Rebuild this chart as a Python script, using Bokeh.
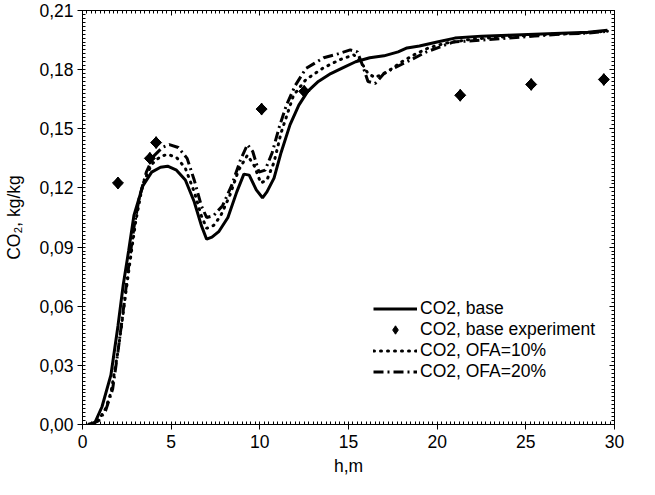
import numpy as np
from bokeh.plotting import figure
from bokeh.models import (LinearAxis, FixedTicker, CustomJSTickFormatter, Legend,
                          LegendItem, Range1d)
from bokeh.embed import file_html
from bokeh.resources import INLINE

# ---- data ----
base_x = [0.3, 0.7, 1.1, 1.6, 2.0, 2.3, 2.6, 2.9, 3.4, 3.9, 4.4, 4.8, 5.3, 5.8, 6.3, 6.7,
          7.0, 7.3, 7.7, 8.2, 8.7, 9.1, 9.4, 9.8, 10.15, 10.4, 10.8, 11.2, 11.7, 12.2,
          12.7, 13.3, 14.0, 14.7, 15.4, 16.2, 17.0, 17.8, 18.3, 19.0, 20.0, 21.0, 22.5,
          24.0, 25.5, 27.0, 28.5, 29.6]
base_y = [0.000, 0.001, 0.009, 0.025, 0.050, 0.071, 0.088, 0.106, 0.121, 0.128, 0.1305,
          0.131, 0.129, 0.124, 0.113, 0.101, 0.094, 0.095, 0.098, 0.105, 0.118, 0.127,
          0.1265, 0.119, 0.115, 0.118, 0.125, 0.138, 0.152, 0.162, 0.169, 0.174, 0.178,
          0.181, 0.184, 0.186, 0.187, 0.189, 0.191, 0.192, 0.194, 0.196, 0.197, 0.1975,
          0.198, 0.1985, 0.199, 0.200]

ofa10_x = [0.5, 0.9, 1.3, 1.6, 2.0, 2.2, 2.4, 2.7, 3.0, 3.4, 3.9, 4.4, 4.8, 5.3, 5.8,
           6.3, 6.7, 7.0, 7.4, 7.8, 8.3, 8.8, 9.3, 9.7, 10.05, 10.4, 10.8, 11.2, 11.9,
           12.6, 13.6, 14.5, 15.3, 15.7, 16.1, 16.5, 17.2, 18.0, 18.8, 19.5, 20.5, 22.0,
           23.5, 25.0, 26.5, 28.0, 29.6]
ofa10_y = [0.000, 0.002, 0.008, 0.016, 0.037, 0.050, 0.064, 0.084, 0.103, 0.122, 0.132,
           0.136, 0.137, 0.1355, 0.130, 0.118, 0.106, 0.0995, 0.101, 0.106, 0.116, 0.129,
           0.1366, 0.131, 0.1225, 0.124, 0.133, 0.148, 0.167, 0.175, 0.181, 0.185, 0.1875,
           0.184, 0.178, 0.176, 0.179, 0.184, 0.188, 0.191, 0.1935, 0.1955, 0.1965,
           0.1972, 0.198, 0.1985, 0.1995]

ofa20_x = [0.5, 0.9, 1.3, 1.7, 2.0, 2.3, 2.6, 2.9, 3.2, 3.6, 4.0, 4.5, 4.9, 5.4, 5.9,
           6.3, 6.7, 7.0, 7.4, 7.9, 8.4, 8.9, 9.3, 9.6, 9.95, 10.3, 10.7, 11.1, 11.5,
           12.0, 12.6, 13.6, 14.4, 15.1, 15.5, 15.8, 16.1, 16.5, 17.0, 17.6, 18.3, 19.4,
           20.9, 22.5, 24.0, 25.5, 27.0, 28.5, 29.6]
ofa20_y = [0.000, 0.002, 0.007, 0.018, 0.037, 0.058, 0.080, 0.100, 0.115, 0.128, 0.136,
           0.1405, 0.142, 0.1405, 0.135, 0.124, 0.111, 0.105, 0.106, 0.111, 0.121, 0.134,
           0.142, 0.1385, 0.128, 0.129, 0.138, 0.151, 0.162, 0.172, 0.1806, 0.186, 0.188,
           0.190, 0.189, 0.182, 0.174, 0.173, 0.178, 0.181, 0.184, 0.189, 0.194, 0.195,
           0.196, 0.197, 0.198, 0.1985, 0.1995]

exp_x = [2.0, 3.8, 4.15, 10.1, 12.5, 21.3, 25.3, 29.4]
exp_y = [0.1225, 0.135, 0.143, 0.160, 0.169, 0.167, 0.1725, 0.175]

x_major = [0, 5, 10, 15, 20, 25, 30]
y_major = [0.0, 0.03, 0.06, 0.09, 0.12, 0.15, 0.18, 0.21]

labels = ["CO2, base", "CO2, base experiment", "CO2, OFA=10%", "CO2, OFA=20%"]

FONT = "Liberation Sans"
FS = "17.5px"

p = figure(width=639, height=479, output_backend="svg", toolbar_location=None,
           x_range=Range1d(0, 30), y_range=Range1d(0, 0.21),
           min_border_left=82, min_border_right=25, min_border_top=10,
           min_border_bottom=55, x_axis_label="h,m", y_axis_label="CO\u2082, kg/kg")
p.xgrid.visible = False
p.ygrid.visible = False
p.outline_line_color = "black"
p.outline_line_width = 1

xt = FixedTicker(ticks=x_major, minor_ticks=list(np.round(np.arange(0, 30.001, 0.25), 4)))
yt = FixedTicker(ticks=y_major, minor_ticks=list(np.round(np.arange(0, 0.2101, 0.002), 4)))

for ax, tk in ((p.xaxis[0], xt), (p.yaxis[0], yt)):
    ax.ticker = tk
    ax.major_tick_out = 5
    ax.major_tick_in = 0
    ax.minor_tick_out = 0
    ax.minor_tick_in = 3
    ax.axis_line_color = "black"
    ax.major_tick_line_color = "black"
    ax.minor_tick_line_color = "black"
    ax.major_label_text_font = FONT
    ax.major_label_text_font_size = FS
    ax.major_label_text_color = "black"
    ax.axis_label_text_font = FONT
    ax.axis_label_text_font_size = FS
    ax.axis_label_text_font_style = "normal"
    ax.axis_label_text_color = "black"

p.yaxis[0].formatter = CustomJSTickFormatter(code="return tick.toFixed(2).replace('.', ',');")
p.xaxis[0].formatter = CustomJSTickFormatter(code="return tick.toFixed(0);")
p.yaxis[0].major_label_standoff = 4
p.yaxis[0].axis_label_standoff = 12
p.xaxis[0].major_label_standoff = 5
p.xaxis[0].axis_label_standoff = 5

empty = CustomJSTickFormatter(code="return '';")
for side, tk in (("right", yt), ("above", xt)):
    a = LinearAxis(ticker=tk, formatter=empty, major_tick_in=5, major_tick_out=0,
                   minor_tick_in=3, minor_tick_out=0, major_label_standoff=0,
                   major_label_text_font_size="1px", axis_line_color="black")
    p.add_layout(a, side)

r_base = p.line(base_x, base_y, line_color="black", line_width=3)
# diamond marker (used for the legend key), covered by the rotated squares below
r_exp_key = p.scatter(exp_x, exp_y, marker="diamond", size=12, line_width=1,
                      fill_color="black", line_color="black")
r_exp = p.scatter(exp_x, exp_y, marker="square", angle=np.pi / 4, size=7.8,
                  fill_color="black", line_color="black")
r_10 = p.line(ofa10_x, ofa10_y, line_color="black", line_width=3,
              line_dash="1 6", line_cap="round")
r_20 = p.line(ofa20_x, ofa20_y, line_color="black", line_width=3,
              line_dash="10 4 2 4")

legend = Legend(items=[LegendItem(label=labels[0], renderers=[r_base]),
                       LegendItem(label=labels[1], renderers=[r_exp_key]),
                       LegendItem(label=labels[2], renderers=[r_10]),
                       LegendItem(label=labels[3], renderers=[r_20])],
                location=(291, 42), border_line_color=None, background_fill_alpha=0,
                padding=0, margin=0, spacing=0, glyph_width=44, glyph_height=21,
                label_height=21, label_standoff=3, label_text_font=FONT,
                label_text_font_size=FS, label_text_color="black")
p.add_layout(legend)

open("out.html", "w").write(file_html(p, INLINE))
